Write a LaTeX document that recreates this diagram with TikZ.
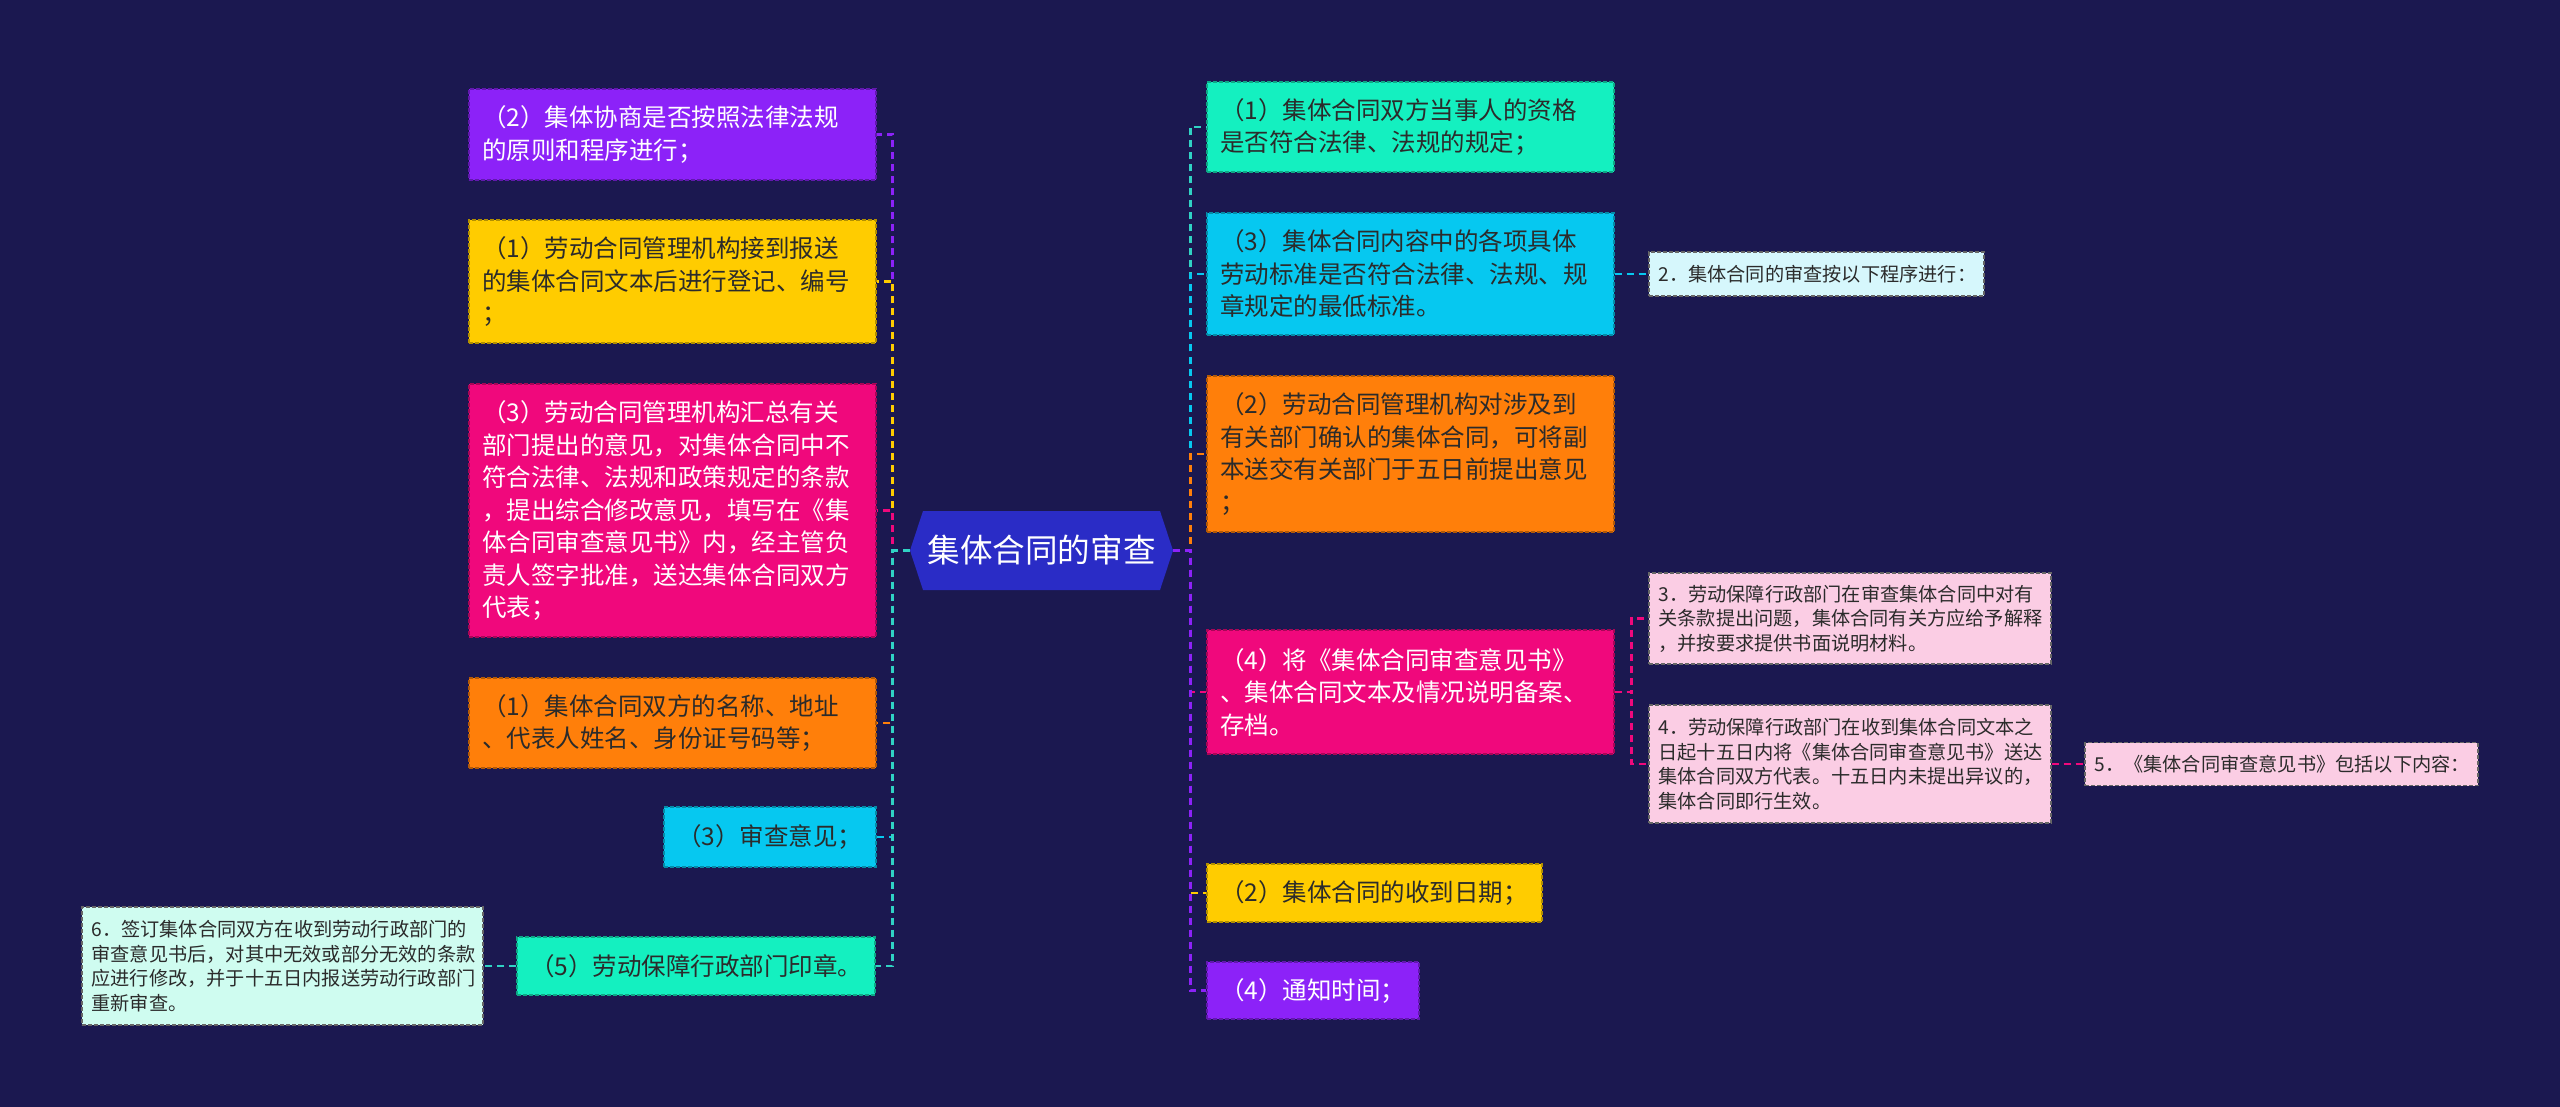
\documentclass[tikz,border=0pt]{standalone}
\usepackage{fontspec}
\setmainfont{Noto Sans CJK SC}
\definecolor{bgc}{HTML}{1B1850}
\definecolor{rootc}{HTML}{2A2CC6}
\definecolor{cPurple}{HTML}{8C22F8}
\definecolor{cYellow}{HTML}{FFCC00}
\definecolor{cPink}{HTML}{F0087C}
\definecolor{cOrange}{HTML}{FF7F0A}
\definecolor{cCyan}{HTML}{06C8F0}
\definecolor{cMint}{HTML}{14F0C0}
\definecolor{lMint}{HTML}{30D2C4}
\definecolor{lCyan}{HTML}{D6F7FC}
\definecolor{lPink}{HTML}{FBCDE4}
\definecolor{lGreen}{HTML}{CFFCF0}
\definecolor{darktxt}{HTML}{2B2B2B}
\newcommand\mainfs{\fontsize{12.25pt}{16.25pt}\selectfont}
\newcommand\smallfs{\fontsize{9.6pt}{12.25pt}\selectfont}
\newcommand\rootfs{\fontsize{16.3pt}{20pt}\selectfont}
\tikzset{
  fbox/.style={fill=#1, draw=#1!70!black},
  mbox/.style={rectangle, dash pattern=on 2pt off 1pt, line width=0.6pt,
    inner xsep=6.5pt, inner ysep=0pt, text width=190.5pt, align=left,
    font=\mainfs, anchor=center},
  sbox/.style={mbox, font=\smallfs, inner xsep=4.75pt, text width=191.5pt,
    text=darktxt, draw=black!60},
  link/.style={line width=1.3pt, dash pattern=on 3.5pt off 2.5pt},
}
\begin{document}
\begin{tikzpicture}[x=0.5pt,y=-0.5pt]
\fill[bgc] (0,0) rectangle (2560,1107);
\useasboundingbox (0,0) rectangle (2560,1107);
% root hexagon
\fill[rootc] (910,550.5) -- (923,511) -- (1160,511) -- (1173,550.5) -- (1160,590) -- (923,590) -- cycle;
\node[minimum width=131.5pt, minimum height=39.5pt, inner sep=0pt, text=white, font=\rootfs] (root) at (1041.5,550.5) {集体合同的审查};
% left nodes
\node[mbox, fbox=cPurple, text=white, minimum height=45.5pt] (L1) at (672.5,134.5) {（2）集体协商是否按照法律法规\\的原则和程序进行；};
\node[mbox, fbox=cYellow, text=darktxt, minimum height=61.5pt] (L2) at (672.5,281.5) {（1）劳动合同管理机构接到报送\\的集体合同文本后进行登记、编号\\；};
\node[mbox, fbox=cPink, text=white, minimum height=126.5pt] (L3) at (672.5,510.5) {（3）劳动合同管理机构汇总有关\\部门提出的意见，对集体合同中不\\符合法律、法规和政策规定的条款\\，提出综合修改意见，填写在《集\\体合同审查意见书》内，经主管负\\责人签字批准，送达集体合同双方\\代表；};
\node[mbox, fbox=cOrange, text=darktxt, minimum height=45pt] (L4) at (672.5,723) {（1）集体合同双方的名称、地址\\、代表人姓名、身份证号码等；};
\node[mbox, fbox=cCyan, text=darktxt, minimum height=30pt, text width=93pt] (L5) at (770,837) {（3）审查意见；};
\node[mbox, fbox=cMint, text=darktxt, minimum height=29pt, text width=166pt] (L6) at (696,966) {（5）劳动保障行政部门印章。};
\node[sbox, fill=lGreen, minimum height=59pt, text width=191pt] (L7) at (282.5,966) {6．签订集体合同双方在收到劳动行政部门的\\审查意见书后，对其中无效或部分无效的条款\\应进行修改，并于十五日内报送劳动行政部门\\重新审查。};
% right nodes
\node[mbox, fbox=cMint, text=darktxt, minimum height=45pt] (R1) at (1410.5,127) {（1）集体合同双方当事人的资格\\是否符合法律、法规的规定；};
\node[mbox, fbox=cCyan, text=darktxt, minimum height=61pt] (R2) at (1410.5,274) {（3）集体合同内容中的各项具体\\劳动标准是否符合法律、法规、规\\章规定的最低标准。};
\node[sbox, fill=lCyan, minimum height=22pt, text width=158pt] (R3) at (1816.5,274) {2．集体合同的审查按以下程序进行：};
\node[mbox, fbox=cOrange, text=darktxt, minimum height=78pt] (R4) at (1410.5,454) {（2）劳动合同管理机构对涉及到\\有关部门确认的集体合同，可将副\\本送交有关部门于五日前提出意见\\；};
\node[mbox, fbox=cPink, text=white, minimum height=62pt] (R5) at (1410.5,692) {（4）将《集体合同审查意见书》\\、集体合同文本及情况说明备案、\\存档。};
\node[sbox, fill=lPink, minimum height=45.5pt] (R6) at (1850,618.5) {3．劳动保障行政部门在审查集体合同中对有\\关条款提出问题，集体合同有关方应给予解释\\，并按要求提供书面说明材料。};
\node[sbox, fill=lPink, minimum height=59pt] (R7) at (1850,764) {4．劳动保障行政部门在收到集体合同文本之\\日起十五日内将《集体合同审查意见书》送达\\集体合同双方代表。十五日内未提出异议的，\\集体合同即行生效。};
\node[sbox, fill=lPink, minimum height=21.5pt, text width=187pt] (R8) at (2281.5,764) {5．《集体合同审查意见书》包括以下内容：};
\node[mbox, fbox=cYellow, text=darktxt, minimum height=29pt, text width=154.5pt] (R9) at (1374.5,893) {（2）集体合同的收到日期；};
\node[mbox, fbox=cPurple, text=white, minimum height=28.5pt, text width=93pt] (R10) at (1313,990.5) {（4）通知时间；};
% left connectors
\draw[link, cPurple] (root.west) -- ++(-17,0) |- (L1.east);
\draw[link, cYellow] (root.west) -- ++(-17,0) |- (L2.east);
\draw[link, cPink] (root.west) -- ++(-17,0) |- (L3.east);
\draw[link, cOrange] (root.west) -- ++(-17,0) |- (L4.east);
\draw[link, cCyan] (root.west) -- ++(-17,0) |- (L5.east);
\draw[link, lMint] (root.west) -- ++(-17,0) |- (L6.east);
\draw[link, lMint] (L6.west) -- (L7.east);
% right connectors
\draw[link, lMint] (root.east) -- ++(17,0) |- (R1.west);
\draw[link, cCyan] (root.east) -- ++(17,0) |- (R2.west);
\draw[link, cOrange] (root.east) -- ++(17,0) |- (R4.west);
\draw[link, cPink] (root.east) -- ++(17,0) |- (R5.west);
\draw[link, cYellow] (root.east) -- ++(17,0) |- (R9.west);
\draw[link, cPurple] (root.east) -- ++(17,0) |- (R10.west);
\draw[link, cCyan] (R2.east) -- (R3.west);
\draw[link, cPink] (R5.east) -- ++(17,0) |- (R6.west);
\draw[link, cPink] (R5.east) -- ++(17,0) |- (R7.west);
\draw[link, cPink] (R7.east) -- (R8.west);
\end{tikzpicture}
\end{document}
